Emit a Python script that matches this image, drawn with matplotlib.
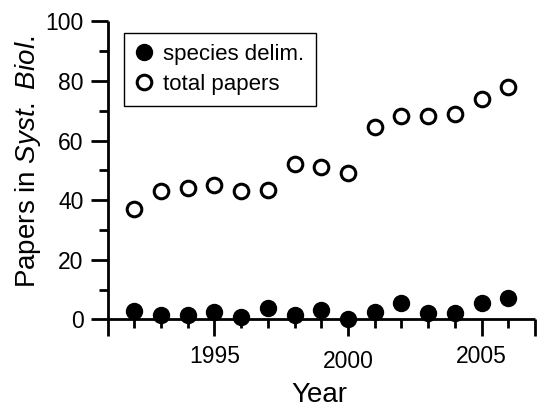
import matplotlib
matplotlib.use("Agg")
import matplotlib.pyplot as plt
from matplotlib.ticker import FixedLocator, MultipleLocator
from matplotlib.transforms import ScaledTranslation

plt.rcParams['font.family'] = ['Liberation Sans', 'DejaVu Sans']
plt.rcParams['mathtext.fontset'] = 'custom'
plt.rcParams['mathtext.rm'] = 'Liberation Sans'
plt.rcParams['mathtext.it'] = 'Liberation Sans:italic'

years = [1992, 1993, 1994, 1995, 1996, 1997, 1998, 1999, 2000,
         2001, 2002, 2003, 2004, 2005, 2006]
species_delim = [2.9, 1.4, 1.5, 2.3, 0.8, 3.9, 1.3, 3.0, 0.0,
                 2.4, 5.6, 2.0, 2.2, 5.6, 7.2]
total_papers = [37, 43, 44, 45, 43, 43.5, 52, 51, 49,
                64.5, 68.4, 68.4, 69, 74, 78]
x_major = [1991, 1995, 2000, 2005, 2007]
x_labels = ['', '1995', '2000', '2005', '']
y_major = [0, 20, 40, 60, 80, 100]

fig = plt.figure(figsize=(5.37, 4.08), dpi=100)
ax = fig.add_axes([107.5/537, 1-319.3/408, 427.5/537, 297.8/408])

ax.plot(years, species_delim, 'o', color='black', markersize=11.5, markeredgewidth=1,
        clip_on=False, zorder=3, label='species delim.')
ax.plot(years, total_papers, 'o', markerfacecolor='white', markeredgecolor='black',
        markersize=10.5, markeredgewidth=2.2, clip_on=False, zorder=3, label='total papers')

ax.set_xlim(1991, 2007)
ax.set_ylim(0, 100)
for s in ['top', 'right']:
    ax.spines[s].set_visible(False)
for s in ['left', 'bottom']:
    ax.spines[s].set_linewidth(2)
    ax.spines[s].set_capstyle('butt')

ax.xaxis.set_major_locator(FixedLocator(x_major))
ax.set_xticklabels(x_labels)
ax.xaxis.set_minor_locator(MultipleLocator(1))
ax.yaxis.set_major_locator(FixedLocator(y_major))
ax.yaxis.set_minor_locator(MultipleLocator(10))

ax.tick_params(which='major', length=12.2, width=2, labelsize=16.5, direction='out')
ax.tick_params(which='minor', length=6.5, width=2, direction='out')
ax.tick_params(axis='x', which='major', pad=6)
ax.tick_params(axis='y', which='major', pad=5)

# 2000 label sits a bit lower in the reference
for lbl in ax.get_xticklabels():
    if lbl.get_text() == '2000':
        lbl.set_transform(lbl.get_transform() + ScaledTranslation(0, -4/72, fig.dpi_scale_trans))

ax.set_xlabel('Year', fontsize=20, va='top')
ax.xaxis.set_label_coords(0.495, -0.209)
ax.set_ylabel(r'Papers in $\it{Syst.\ Biol.}$', fontsize=20)
ax.yaxis.set_label_coords(-0.150, 0.53)

leg = ax.legend(loc='upper left', bbox_to_anchor=(0.0393, 0.9624), borderaxespad=0,
                fontsize=16, frameon=True, fancybox=False, edgecolor='black',
                handlelength=0.8, handletextpad=0.46, labelspacing=0.4,
                borderpad=0.5, numpoints=1)
leg.get_frame().set_linewidth(1.0)
leg.get_frame().set_alpha(1)

fig.savefig('out.png', dpi=100)
